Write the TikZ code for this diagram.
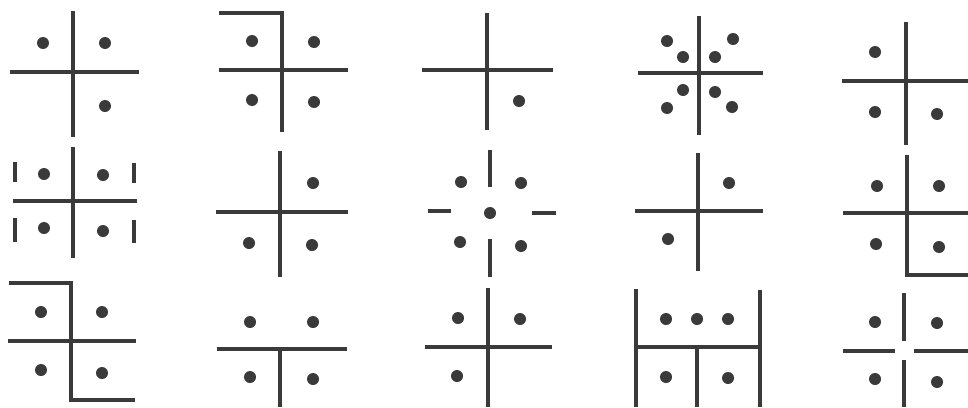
\documentclass[tikz,border=0pt]{standalone}
\definecolor{ink}{HTML}{3A3A3A}
\begin{document}
\begin{tikzpicture}[x=1pt,y=-1pt,
  bar/.style={draw=ink,line width=4pt,line cap=butt,line join=miter},
  spot/.style={fill=ink}]
\useasboundingbox (0,0) rectangle (968,407);
\fill[white] (0,0) rectangle (968,407);
% ---- row 1 ----
% fig 1
\draw[bar] (73,11) -- (73,137);
\draw[bar] (10,72) -- (139,72);
\foreach \x/\y in {43/43,105/43,105/106} \fill[spot] (\x,\y) circle (6);
% fig 2
\draw[bar] (219,13) -- (282,13) -- (282,132);
\draw[bar] (219,70) -- (348,70);
\foreach \x/\y in {252/41,314/42,252/100,314/102} \fill[spot] (\x,\y) circle (6);
% fig 3
\draw[bar] (487,13) -- (487,130);
\draw[bar] (422,70) -- (553,70);
\fill[spot] (519,101) circle (6);
% fig 4
\draw[bar] (699,16) -- (699,135);
\draw[bar] (638,73) -- (763,73);
\foreach \x/\y in {667/41,733/39,683/57,715/57,683/90,715/92,667/108,732/107} \fill[spot] (\x,\y) circle (6);
% fig 5
\draw[bar] (906,22) -- (906,145);
\draw[bar] (842,81) -- (968,81);
\foreach \x/\y in {875/52,875/112,937/114} \fill[spot] (\x,\y) circle (6);
% ---- row 2 ----
% fig 6
\draw[bar] (73,147) -- (73,258);
\draw[bar] (13,201) -- (137,201);
\draw[bar] (15,162) -- (15,182);
\draw[bar] (15,218) -- (15,242);
\draw[bar] (134,163) -- (134,183);
\draw[bar] (134,220) -- (134,243);
\foreach \x/\y in {44/174,103/175,44/228,103/231} \fill[spot] (\x,\y) circle (6);
% fig 7
\draw[bar] (280,151) -- (280,277);
\draw[bar] (216,212) -- (348,212);
\foreach \x/\y in {313/183,249/243,312/245} \fill[spot] (\x,\y) circle (6);
% fig 8
\draw[bar] (490,150) -- (490,187);
\draw[bar] (490,239) -- (490,277);
\draw[bar] (428,211) -- (451,211);
\draw[bar] (532,213) -- (556,213);
\foreach \x/\y in {490/213,461/182,521/183,460/242,521/246} \fill[spot] (\x,\y) circle (6);
% fig 9
\draw[bar] (698,153) -- (698,271);
\draw[bar] (635,211) -- (763,211);
\foreach \x/\y in {729/183,668/239} \fill[spot] (\x,\y) circle (6);
% fig 10
\draw[bar] (907,155) -- (907,275) -- (968,275);
\draw[bar] (843,213) -- (968,213);
\foreach \x/\y in {877/186,939/186,876/244,939/247} \fill[spot] (\x,\y) circle (6);
% ---- row 3 ----
% fig 11
\draw[bar] (9,283) -- (71,283) -- (71,400) -- (135,400);
\draw[bar] (8,341) -- (136,341);
\foreach \x/\y in {41/312,102/312,41/370,102/373} \fill[spot] (\x,\y) circle (6);
% fig 12
\draw[bar] (217,349) -- (347,349);
\draw[bar] (280,349) -- (280,407);
\foreach \x/\y in {250/322,313/322,250/377,313/379} \fill[spot] (\x,\y) circle (6);
% fig 13
\draw[bar] (488,288) -- (488,407);
\draw[bar] (425,347) -- (552,347);
\foreach \x/\y in {458/318,520/319,457/376} \fill[spot] (\x,\y) circle (6);
% fig 14
\draw[bar] (636,289) -- (636,407);
\draw[bar] (760,290) -- (760,407);
\draw[bar] (636,347) -- (760,347);
\draw[bar] (697,347) -- (697,407);
\foreach \x/\y in {666/319,697/319,728/319,666/377,728/378} \fill[spot] (\x,\y) circle (6);
% fig 15
\draw[bar] (904,293) -- (904,341);
\draw[bar] (904,360) -- (904,407);
\draw[bar] (843,351) -- (895,351);
\draw[bar] (914,351) -- (968,351);
\foreach \x/\y in {875/322,937/323,875/379,937/382} \fill[spot] (\x,\y) circle (6);
\end{tikzpicture}
\end{document}
